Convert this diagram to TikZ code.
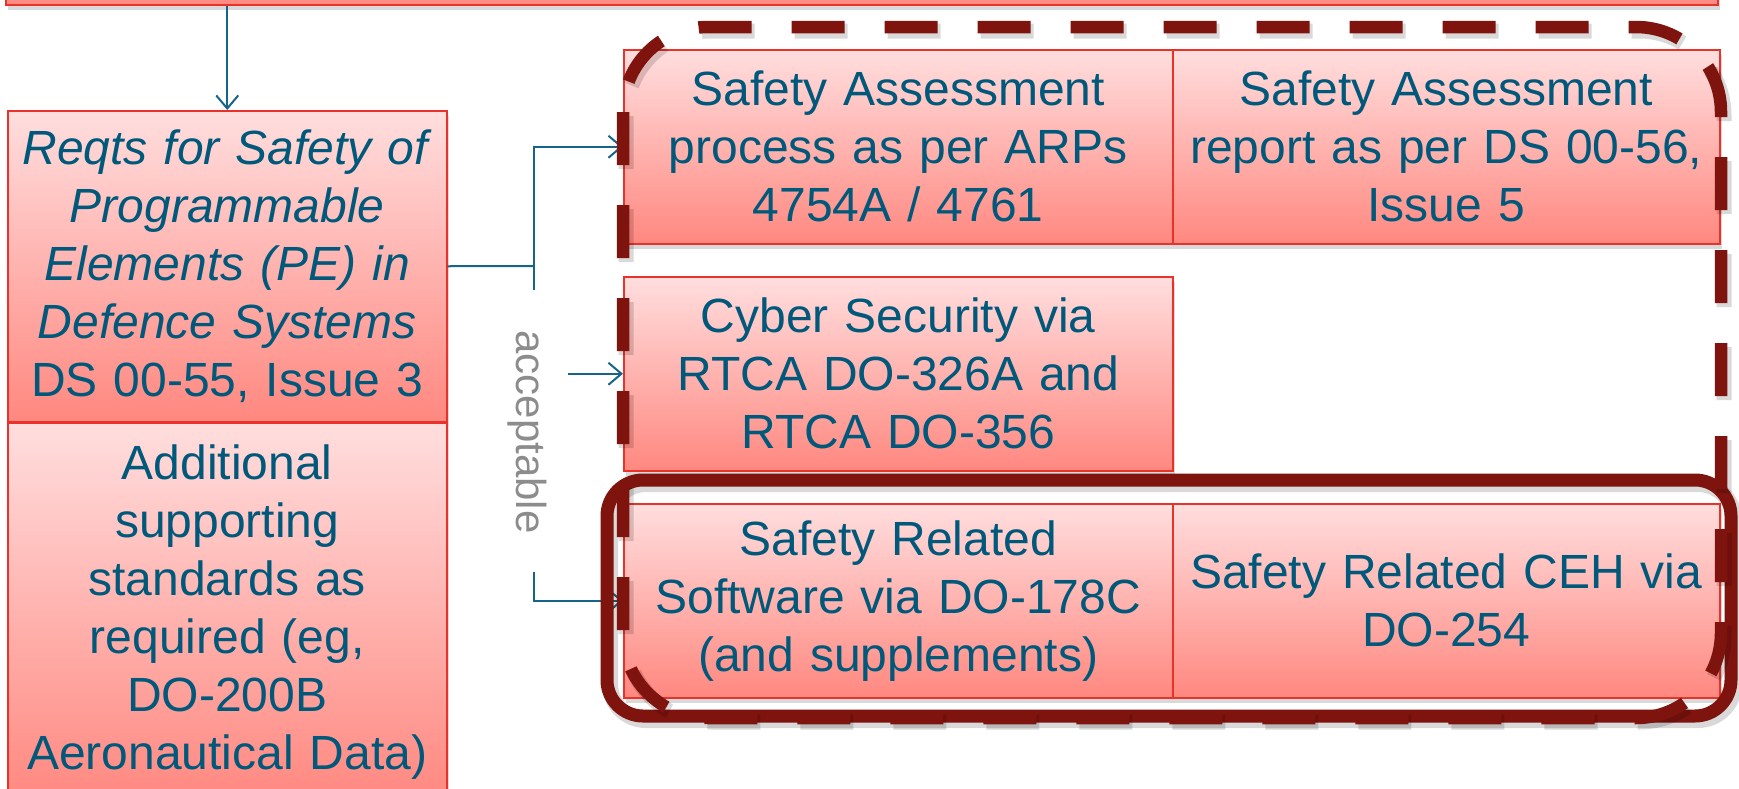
\documentclass[tikz,border=0pt]{standalone}
\usepackage{fontspec}
\setmainfont{Liberation Sans}
\usetikzlibrary{arrows.meta,shadows}
\definecolor{txtblue}{RGB}{0,88,122}
\definecolor{wireblue}{RGB}{22,100,135}
\definecolor{boxred}{RGB}{232,50,42}
\definecolor{pinktop}{RGB}{255,222,222}
\definecolor{pinkbot}{RGB}{255,136,128}
\definecolor{darkred}{RGB}{127,19,14}
\definecolor{accgray}{RGB}{140,140,140}

\begin{document}
\begin{tikzpicture}[
        x=1pt, y=-1pt,
        pinkn/.style={draw=boxred, line width=1.5pt, top color=pinktop, bottom color=pinkbot,
            anchor=north west, inner sep=0pt, align=center, text=txtblue,
            font=\fontsize{48}{58}\selectfont,
            drop shadow={shadow xshift=2pt, shadow yshift=-5pt, opacity=0.3}},
        wire/.style={draw=wireblue, line width=2pt},
        link/.style={wire, -{Straight Barb[length=13pt, width=22pt, line width=2pt]}},
        dashframe/.style={draw=darkred, line width=12.5pt, dash pattern=on 53pt off 40pt, rounded corners=85pt},
        solidframe/.style={draw=darkred, line width=13pt, rounded corners=36pt},
        ghost/.style={draw=black, opacity=0.15},
    ]
    \useasboundingbox (0,0) rectangle (1739,788);

    % left column
    \node[pinkn, minimum width=1712, minimum height=80](top) at (5,-76){};
    \node[pinkn, minimum width=439, minimum height=311, text width=430](reqts) at (7,110)
        {\textit{Reqts for Safety of}\\\textit{Programmable}\\\textit{Elements (PE) in}\\\textit{Defence Systems}\\DS 00-55, Issue 3};
    \node[pinkn, minimum width=439, minimum height=378, text width=430](addl) at (7,422)
        {Additional\\supporting\\standards as\\required (eg,\\DO-200B\\Aeronautical Data)};

    % acceptable routes
    \node[pinkn, minimum width=549, minimum height=194, text width=535](saproc) at (623,49)
        {Safety Assessment\\process as per ARPs\\4754A / 4761};
    \node[pinkn, minimum width=547, minimum height=194, text width=535](sarep) at (1172,49)
        {Safety Assessment\\report as per DS 00-56,\\Issue 5};
    \node[pinkn, minimum width=549, minimum height=194, text width=535](cyber) at (623,276)
        {Cyber Security via\\RTCA DO-326A and\\RTCA DO-356};
    \node[pinkn, minimum width=549, minimum height=194, text width=535](srsw) at (623,503)
        {Safety Related\\Software via DO-178C\\(and supplements)};
    \node[pinkn, minimum width=547, minimum height=194, text width=535](sceh) at (1172,503)
        {Safety Related CEH via\\DO-254};

    \coordinate (split) at (534,266);
    \coordinate (splitend) at (534,290);
    \coordinate (lowstart) at (534,572);

    \draw[link] (top.south -| reqts.north) -- (reqts.north);
    \draw[wire] (reqts.east) -- (split);
    \draw[link] (splitend) |- (saproc.west);
    \draw[link] ([xshift=-55pt]cyber.west) -- (cyber.west);
    \draw[link] (lowstart) |- (srsw.west);

    \node[rotate=-90, text=accgray, font=\fontsize{42}{50}\selectfont](acc) at (527,432){acceptable};

    % grouping frames
    \draw[solidframe, ghost, line width=16pt, shift={(3,4)}] (607,480) rectangle (1731,716);
    \draw[solidframe] (607,480) rectangle (1731,716);
    \draw[dashframe, ghost, line width=15pt, shift={(3,4)}] (623,27) rectangle (1721,718);
    \draw[dashframe] (623,27) rectangle (1721,718);
\end{tikzpicture}
\end{document}
